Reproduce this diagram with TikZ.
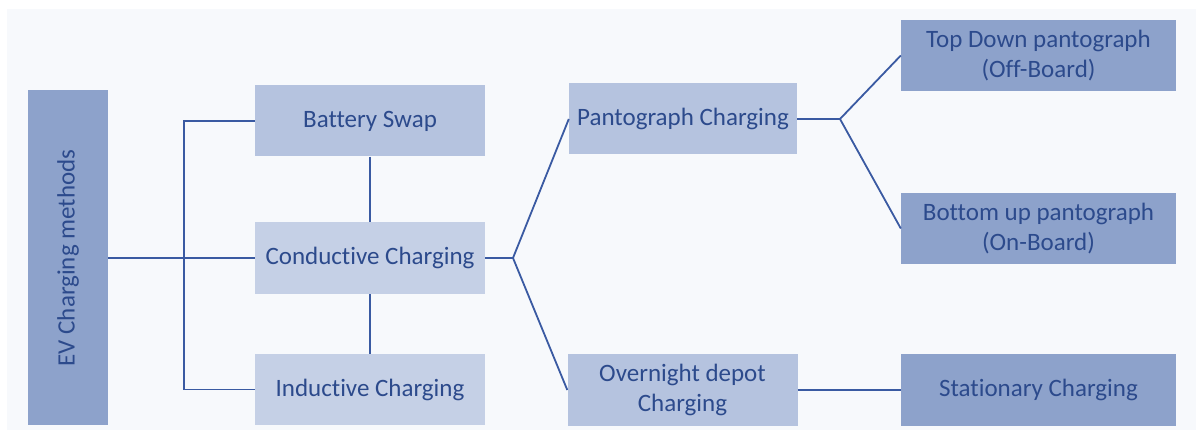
\documentclass[tikz,border=0pt]{standalone}
\usepackage{fontspec}
\setmainfont{Carlito}[Ligatures={NoCommon}]
\definecolor{bgc}{HTML}{F7F9FC}
\definecolor{dark}{HTML}{8DA2CB}
\definecolor{mid}{HTML}{B5C3DF}
\definecolor{light}{HTML}{C5D0E6}
\definecolor{txt}{HTML}{2C4A8C}
\definecolor{ln}{HTML}{3A5AA2}
\begin{document}
\begin{tikzpicture}[x=1pt,y=-1pt,
  box/.style={rectangle,inner sep=0pt,text=txt,align=center,font=\fontsize{25}{29.5}\selectfont},
  conn/.style={draw=ln,line width=1.8pt}]
\useasboundingbox (0,0) rectangle (1203,435);
\fill[white] (0,0) rectangle (1203,435);
\fill[bgc] (7,9) rectangle (1196,430);
\node[box,fill=dark,minimum width=80pt,minimum height=335pt] (ev) at (68,258) {};
\node[txt,rotate=90,font=\fontsize{25}{29.5}\selectfont] (evt) at (ev.center) {EV Charging methods};
\node[box,fill=mid,minimum width=230pt,minimum height=71pt] (bs) at (370,121) {Battery Swap};
\node[box,fill=light,minimum width=230pt,minimum height=72pt] (cc) at (370,258) {Conductive Charging};
\node[box,fill=light,minimum width=230pt,minimum height=71pt] (ic) at (370,389.5) {Inductive Charging};
\node[box,fill=mid,minimum width=228pt,minimum height=71pt] (pc) at (683,119) {Pantograph Charging};
\node[box,fill=mid,minimum width=230pt,minimum height=72pt] (on) at (682.5,390) {Overnight depot\\Charging};
\node[box,fill=dark,minimum width=275pt,minimum height=71pt] (td) at (1038.5,55.5) {Top Down pantograph\\(Off-Board)};
\node[box,fill=dark,minimum width=275pt,minimum height=71pt] (bu) at (1038.5,228.5) {Bottom up pantograph\\(On-Board)};
\node[box,fill=dark,minimum width=275pt,minimum height=72pt] (st) at (1038.5,390) {Stationary Charging};
\coordinate (bus) at (184,258);
\coordinate (j1) at (513,258);
\coordinate (j2) at (840,119);
\draw[conn] (ev.east) -- (cc.west);
\draw[conn] (bs.west) -| (bus) |- (ic.west);
\draw[conn] (bs.south) -- (cc.north);
\draw[conn] (cc.south) -- (ic.north);
\draw[conn] (cc.east) -- (j1) -- (pc.west);
\draw[conn] (j1) -- (on.west);
\draw[conn] (pc.east) -- (j2) -- (td.west);
\draw[conn] (j2) -- (bu.west);
\draw[conn] (on.east) -- (st.west);
\end{tikzpicture}
\end{document}
